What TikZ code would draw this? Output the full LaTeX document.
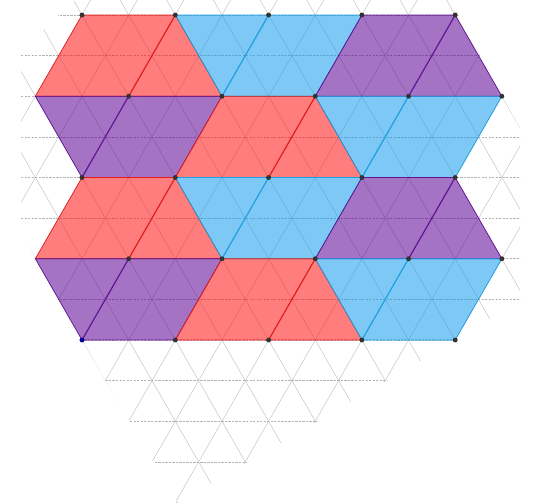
\documentclass[tikz,border=0pt]{standalone}
\usepackage{xcolor}
\usepackage{tikz}

\definecolor{tileRed}{RGB}{255,19,19}
\definecolor{tileBlue}{RGB}{19,155,237}
\definecolor{tilePurple}{RGB}{91,0,146}
\definecolor{edgeRed}{RGB}{225,30,30}
\definecolor{edgeBlue}{RGB}{30,160,225}
\definecolor{edgePurple}{RGB}{95,20,150}

\begin{document}
\begin{tikzpicture}[
    x=0.03cm, y=-0.03cm,
    gridline/.style={draw=black!22, line width=0.45pt},
    gridrow/.style={gridline, draw=black!30, dash pattern=on 2pt off 1pt},
    redtile/.style={fill=tileRed, fill opacity=0.55, draw=edgeRed, line width=0.6pt},
    bluetile/.style={fill=tileBlue, fill opacity=0.55, draw=edgeBlue, line width=0.6pt},
    purpletile/.style={fill=tilePurple, fill opacity=0.55, draw=edgePurple, line width=0.6pt},
    seam/.style={line width=1pt},
    latticept/.style={circle, fill=black!80, inner sep=0pt, minimum size=4.2pt}
]
\useasboundingbox (0,0) rectangle (533,503);

% lattice points, even rows start at 82, odd rows at 35
\foreach \j in {0,2,4}
  \foreach \i in {0,...,4}
    \coordinate (r\j-\i) at ({82+93.3*\i},{15+81.25*\j});
\foreach \j in {1,3}
  \foreach \i in {0,...,5}
    \coordinate (r\j-\i) at ({35.35+93.3*\i},{15+81.25*\j});

% background grid
\begin{scope}
\clip (75,0) -- (450,0) -- (502,96) -- (520,128) -- (520,300) -- (457,340)
  -- (177,503) -- (82,340) -- (35,258) -- (21,232) -- (21,55) -- (43,30) -- cycle;
\foreach \k in {-7,...,18} {
  \draw[gridline] ({35.35+46.65*\k-373.2},{665}) -- ({35.35+46.65*\k+46.65},{-66.25});
  \draw[gridline] ({35.35+46.65*\k+373.2},{665}) -- ({35.35+46.65*\k-46.65},{-66.25});
}
\foreach \m in {-1,...,12}
  \draw[gridrow] (0,{15+40.625*\m}) -- (533,{15+40.625*\m});
\end{scope}

% tiles, two pairs of rows
\foreach \j/\k/\l in {0/1/2, 2/3/4} {
  \draw[redtile] (r\j-0) -- (r\j-1) -- (r\k-2) -- (r\k-0) -- cycle;
  \draw[bluetile] (r\j-1) -- (r\j-3) -- (r\k-3) -- (r\k-2) -- cycle;
  \draw[purpletile] (r\j-3) -- (r\j-4) -- (r\k-5) -- (r\k-3) -- cycle;
  \draw[purpletile] (r\k-0) -- (r\k-2) -- (r\l-1) -- (r\l-0) -- cycle;
  \draw[redtile] (r\k-2) -- (r\k-3) -- (r\l-3) -- (r\l-1) -- cycle;
  \draw[bluetile] (r\k-3) -- (r\k-5) -- (r\l-4) -- (r\l-3) -- cycle;
  % seams
  \draw[seam, edgeRed] (r\j-1) -- (r\k-1);
  \draw[seam, edgeBlue] (r\k-2) -- (r\j-2);
  \draw[seam, edgePurple] (r\j-4) -- (r\k-4);
  \draw[seam, edgePurple] (r\k-1) -- (r\l-0);
  \draw[seam, edgeRed] (r\k-3) -- (r\l-2);
  \draw[seam, edgeBlue] (r\k-4) -- (r\l-3);
}

% dots
\foreach \j in {0,2}
  \foreach \i in {0,...,4}
    \node[latticept] (d\j-\i) at (r\j-\i) {};
\foreach \i in {1,...,4}
  \node[latticept] (d4-\i) at (r4-\i) {};
\node[latticept, fill=blue!60!black] (d4-0) at (r4-0) {};
\foreach \j in {1,3}
  \foreach \i in {1,...,5}
    \node[latticept] (d\j-\i) at (r\j-\i) {};
\end{tikzpicture}
\end{document}
